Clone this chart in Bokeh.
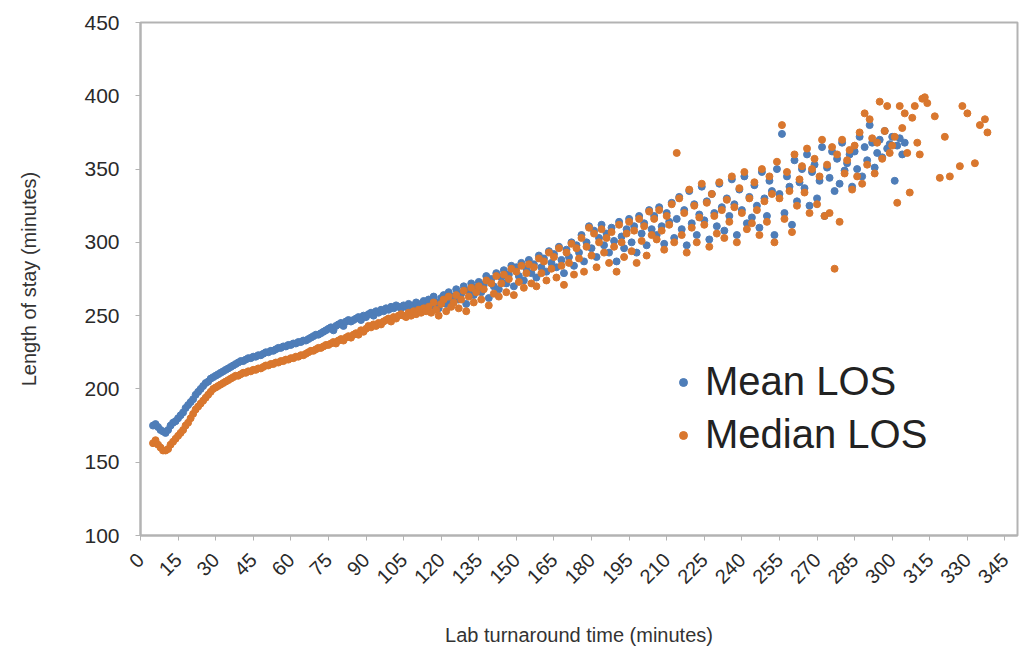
import math
from bokeh.plotting import figure
from bokeh.models import Range1d, FixedTicker, Legend, LegendItem
from bokeh.embed import file_html
from bokeh.resources import INLINE

x_ticks = list(range(0, 346, 15))
y_ticks = list(range(100, 451, 50))

# Mean LOS (minutes) by lab turnaround time, x = 5..305
mean_x = list(range(5, 306))
mean_los = [
    175,176,174,172,171,170,172,175,177,178,
    180,182,184,187,189,191,193,196,198,200,
    202,204,205,207,208,209,210,211,212,213,
    214,215,216,217,218,219,219,220,221,221,
    222,222,223,223,224,225,225,226,226,227,
    228,228,229,229,230,230,231,231,232,232,
    233,233,234,235,236,237,237,238,239,240,
    241,242,240,243,244,245,243,246,247,246,
    247,248,249,247,250,249,251,252,250,253,
    252,254,253,255,254,256,255,257,256,255,
    257,256,258,255,257,259,256,258,260,257,
    261,257,263,259,255,262,264,258,266,260,
    263,268,261,265,270,258,267,272,264,269,
    273,266,271,277,262,275,270,279,268,276,
    281,272,278,284,270,283,277,286,274,282,
    288,279,285,276,291,283,289,280,294,286,
    292,283,297,288,279,295,290,300,284,298,
    293,305,287,300,311,296,308,290,303,312,
    298,306,293,310,301,287,314,304,296,309,
    316,300,311,293,318,306,313,298,322,309,
    318,305,324,311,299,320,314,327,303,316,
    331,309,322,298,335,313,326,305,319,338,
    315,328,302,333,320,311,340,324,308,330,
    318,343,326,305,336,322,345,313,331,317,
    339,325,310,348,330,318,342,335,305,350,
    333,374,320,345,338,312,356,328,341,350,
    337,360,325,348,353,330,342,365,318,351,
    344,362,335,357,340,368,349,354,360,338,
    362,350,372,345,365,356,380,368,351,361,
    370,358,376,364,367,372,342,366,371,360,
    368,
]

# Median LOS (minutes), x = 5..314 then sparse points to 338
median_x = list(range(5, 315)) + [317, 319, 321, 323, 327, 328, 330, 333, 335, 337, 338]
median_los = [
    163,165,162,160,158,158,159,162,164,166,
    168,170,172,175,177,180,183,186,188,190,
    192,194,196,198,200,201,202,203,204,205,
    206,207,208,209,209,210,211,211,212,212,
    213,213,214,214,215,216,216,217,217,218,
    218,219,219,220,220,221,221,222,222,223,
    223,224,225,226,226,227,228,228,229,230,
    230,231,232,231,233,234,233,235,236,235,
    237,238,237,240,239,241,243,242,244,243,
    245,244,246,247,248,246,249,248,250,251,
    250,249,252,250,253,251,254,252,255,253,
    256,252,259,254,250,258,261,253,263,256,
    259,264,255,261,267,253,263,269,259,266,
    270,261,268,274,257,272,265,277,263,272,
    278,266,275,282,264,280,273,284,269,279,
    285,272,283,270,289,279,287,274,293,282,
    290,276,296,284,271,293,286,299,278,296,
    289,303,280,297,310,291,306,283,300,309,
    293,303,286,307,297,280,312,300,290,306,
    314,294,308,286,316,301,311,291,321,305,
    316,302,322,308,295,318,312,326,300,361,
    330,305,320,293,336,310,325,300,317,340,
    312,327,297,333,318,306,341,322,303,329,
    314,345,324,300,337,320,348,309,330,313,
    341,322,305,350,328,314,345,333,300,355,
    330,380,316,348,335,307,360,325,343,352,
    334,364,320,350,357,326,345,370,318,353,
    320,365,282,360,314,370,347,356,363,336,
    366,345,375,340,388,353,384,371,347,368,
    396,357,376,393,361,366,372,327,393,378,
    388,361,334,385,393,368,360,398,399,395,
    386,344,372,345,352,393,388,354,380,384,
    375,
]

BLUE = "#4E7DB8"
ORANGE = "#D9772E"
GRAY = "#B3B3B3"
FONT = "Liberation Sans"

p = figure(width=1023, height=653, output_backend="svg", toolbar_location=None,
           x_range=Range1d(0, 350), y_range=Range1d(100, 450),
           min_border_left=140, min_border_right=6, min_border_top=22, min_border_bottom=118)

r_mean = p.scatter(mean_x, mean_los, size=7, color=BLUE, line_color=BLUE)
r_median = p.scatter(median_x, median_los, size=7, color=ORANGE, line_color=ORANGE)

p.xgrid.visible = False
p.ygrid.visible = False
p.outline_line_color = GRAY
p.outline_line_width = 2

p.xaxis.ticker = FixedTicker(ticks=x_ticks)
p.yaxis.ticker = FixedTicker(ticks=y_ticks)
p.xaxis.minor_tick_line_color = None
p.yaxis.minor_tick_line_color = None
for ax in (p.xaxis, p.yaxis):
    ax.axis_line_color = GRAY
    ax.axis_line_width = 2
    ax.major_tick_line_color = GRAY
    ax.major_tick_in = 0
    ax.major_tick_out = 5
    ax.major_label_text_font = FONT
    ax.major_label_text_color = "#2a2a2a"
    ax.axis_label_text_font = FONT
    ax.axis_label_text_font_size = "20px"
    ax.axis_label_text_font_style = "normal"
    ax.axis_label_text_color = "#333333"

p.xaxis.major_label_text_font_size = "20px"
p.yaxis.major_label_text_font_size = "21px"
p.xaxis.major_label_orientation = math.pi / 4
p.xaxis.major_label_standoff = 16
p.xaxis.axis_label = "Lab turnaround time (minutes)"
p.yaxis.axis_label = "Length of stay (minutes)"
p.yaxis.major_label_standoff = 16
p.xaxis.axis_label_standoff = 31
p.yaxis.axis_label_standoff = 41

legend = Legend(items=[LegendItem(label="Mean LOS", renderers=[r_mean]),
                       LegendItem(label="Median LOS", renderers=[r_median])],
                location=(523, 68))
legend.background_fill_alpha = 0
legend.border_line_alpha = 0
legend.label_text_font = FONT
legend.label_text_font_size = "40px"
legend.label_text_color = "#222222"
legend.glyph_width = 20
legend.glyph_height = 40
legend.label_height = 40
legend.spacing = 8
legend.label_standoff = 12
p.add_layout(legend, "center")

open("out.html", "w").write(file_html(p, INLINE))
